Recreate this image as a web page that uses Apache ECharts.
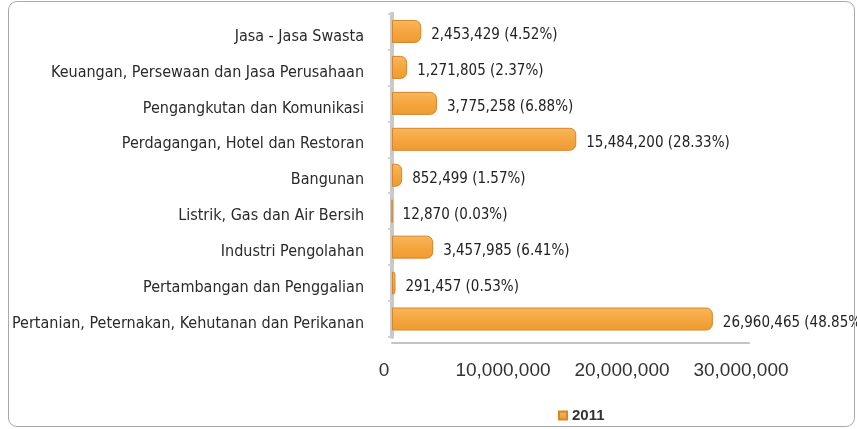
<!DOCTYPE html>
<html>
<head>
<meta charset="utf-8">
<script src="https://cdn.jsdelivr.net/npm/echarts@6/dist/echarts.min.js"></script>
<style>
  html, body { margin: 0; padding: 0; background: #fff; }
  #wrap { position: relative; width: 857px; height: 429px; }
  #chart { width: 857px; height: 429px; }
  /* rounded frame round the whole picture */
  #frame {
    position: absolute; left: 8px; top: 1px; width: 845px; height: 424px;
    border: 1px solid #a8a8a8; border-radius: 9px; pointer-events: none;
  }
</style>
</head>
<body>
<div id="wrap">
  <div id="chart"></div>
  <div id="frame"></div>
</div>
<script>
// sektor (dari atas ke bawah)
const categories = [
  "Jasa - Jasa Swasta",
  "Keuangan, Persewaan dan Jasa Perusahaan",
  "Pengangkutan dan Komunikasi",
  "Perdagangan, Hotel dan Restoran",
  "Bangunan",
  "Listrik, Gas dan Air Bersih",
  "Industri Pengolahan",
  "Pertambangan dan Penggalian",
  "Pertanian, Peternakan, Kehutanan dan Perikanan",
];
// nilai 2011
const values2011 = [2453429, 1271805, 3775258, 15484200, 852499, 12870, 3457985, 291457, 26960465];
// persentase
const shares2011 = [4.52, 2.37, 6.88, 28.33, 1.57, 0.03, 6.41, 0.53, 48.85];
const xTicks = [0, 10000000, 20000000, 30000000];

const narrow = "'DejaVu Sans Condensed', 'Liberation Sans Narrow', 'Arial Narrow', sans-serif";

const chart = echarts.init(document.getElementById("chart"));

const option = {
  animation: false,
  grid: { left: 392, right: 108, top: 13.5, bottom: 92, containLabel: false, outerBoundsMode: "none" },
  legend: {
    left: 553, top: 403,
    itemWidth: 8, itemHeight: 8, itemGap: 4,
    icon: "rect",
    textStyle: { fontFamily: "'Liberation Sans', Arial, sans-serif", fontSize: 15, fontWeight: "bold", color: "#333" },
    data: ["2011"],
  },
  xAxis: {
    type: "value",
    min: xTicks[0], max: xTicks[xTicks.length - 1], interval: 10000000,
    offset: 6,
    axisLine: { show: true, lineStyle: { color: "#c4c4c4", width: 2 } },
    axisTick: { show: false },
    splitLine: { show: false },
    axisLabel: {
      margin: 18,
      padding: [0, 16, 0, 0],
      color: "#333",
      fontFamily: "'Liberation Sans', Arial, sans-serif",
      fontSize: 19,
      formatter: (v) => v.toLocaleString("en-US"),
    },
  },
  yAxis: {
    type: "category",
    inverse: true,
    data: categories,
    axisLine: { show: true, lineStyle: { color: "#c9c9c9", width: 4 } },
    axisTick: { show: true, length: 4, lineStyle: { color: "#d0d0d0", width: 2 } },
    axisLabel: {
      margin: 28,
      verticalAlign: "top",
      lineHeight: 10,
      color: "#2a2a2a",
      fontFamily: narrow,
      fontSize: 16,
    },
  },
  series: [{
    name: "2011",
    type: "bar",
    data: values2011,
    barWidth: 23,
    itemStyle: {
      color: new echarts.graphic.LinearGradient(0, 0, 0, 1, [
        { offset: 0, color: "#f9b75a" },
        { offset: 0.5, color: "#f5a640" },
        { offset: 1, color: "#ee9a32" },
      ]),
      borderColor: "#d68528",
      borderWidth: 1,
      borderRadius: [0, 6, 6, 0],
    },
    label: {
      show: true,
      position: "right",
      distance: 10,
      offset: [0, 4],
      color: "#222",
      fontFamily: narrow,
      fontSize: 15,
      formatter: (p) => p.value.toLocaleString("en-US") + " (" + shares2011[p.dataIndex].toFixed(2) + "%)",
    },
  }],
};

chart.setOption(option);
</script>
</body>
</html>
